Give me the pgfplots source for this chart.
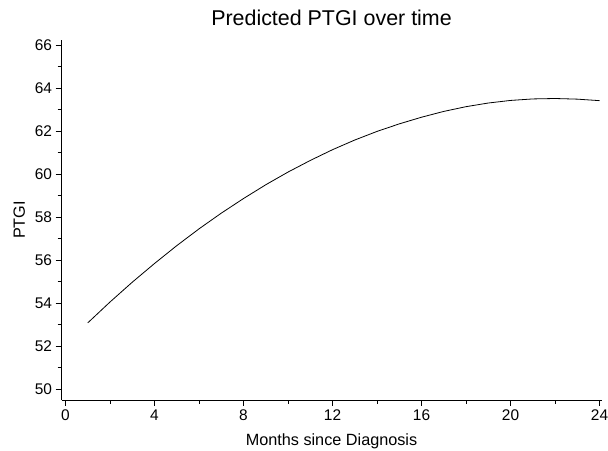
\documentclass[border=0pt]{standalone}
\usepackage{pgfplots}
\pgfplotsset{compat=1.18}
\usepackage{fontspec}
\setmainfont{Liberation Sans}
\begin{document}
\begin{tikzpicture}[x=1bp,y=1bp]
\useasboundingbox (0,0) rectangle (608,451);
\begin{axis}[
  at={(61.5bp,51bp)}, anchor=south west,
  scale only axis, width=540bp, height=360bp,
  xmin=-0.18, xmax=24.09, ymin=49.505, ymax=66.24,
  axis x line*=bottom, axis y line*=left,
  axis line style={line width=0.9bp, -},
  xtick={0,4,...,24}, minor xtick={2,6,...,22},
  ytick={50,52,...,66}, minor ytick={51,53,...,65},
  tick align=outside,
  major tick length=6bp, minor tick length=4bp,
  tick style={line width=0.9bp, black},
  /pgf/number format/assume math mode=true,
  ticklabel style={font=\fontsize{15.5}{18}\selectfont},
  title={Predicted PTGI over time},
  title style={font=\fontsize{21.5}{25}\selectfont, at={(0.5,1)}, anchor=south, yshift=5bp},
  xlabel={Months since Diagnosis},
  ylabel={PTGI},
  label style={font=\fontsize{16.3}{19}\selectfont},
  xlabel style={at={(0.5,0)}, anchor=north, yshift=-30bp},
  ylabel style={at={(0,0.5)}, anchor=south, rotate=0, yshift=33bp},
  clip=false,
]
\addplot[black, line width=0.8bp] coordinates {
(1,53.09) (2,54.06) (3,54.98) (4,55.85) (5,56.68) (6,57.46) (7,58.19) (8,58.87)
(9,59.51) (10,60.10) (11,60.64) (12,61.14) (13,61.59) (14,61.99) (15,62.34)
(16,62.65) (17,62.92) (18,63.14) (19,63.31) (20,63.43) (21,63.50) (22,63.52)
(23,63.49) (24,63.42)
};
\end{axis}
\end{tikzpicture}
\end{document}
